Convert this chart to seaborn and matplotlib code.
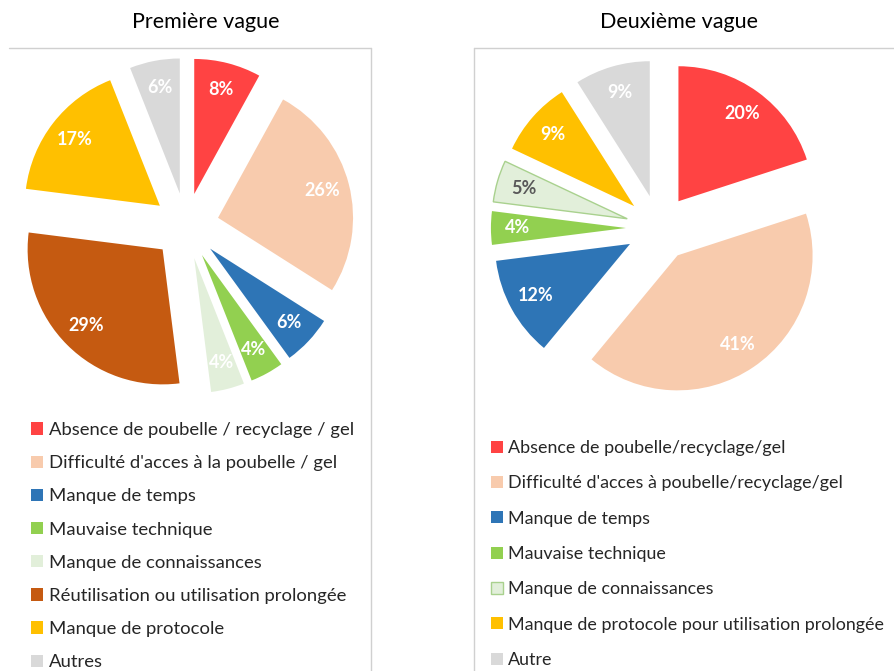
import matplotlib
matplotlib.use("Agg")
import matplotlib.pyplot as plt
import seaborn as sns
from matplotlib.lines import Line2D

# data
labels1 = ["Absence de poubelle / recyclage / gel",
           "Difficulté d'acces à la poubelle / gel",
           "Manque de temps",
           "Mauvaise technique",
           "Manque de connaissances",
           "Réutilisation ou utilisation prolongée",
           "Manque de protocole",
           "Autres"]
values1 = [8, 26, 6, 4, 4, 29, 17, 6]

labels2 = ["Absence de poubelle/recyclage/gel",
           "Difficulté d'acces à poubelle/recyclage/gel",
           "Manque de temps",
           "Mauvaise technique",
           "Manque de connaissances",
           "Manque de protocole pour utilisation prolongée",
           "Autre"]
values2 = [20, 41, 12, 4, 5, 9, 9]

titles = ["Première vague", "Deuxième vague"]

sns.set_theme(style="white")
plt.rcParams['font.family'] = ['Lato', 'DejaVu Sans']

colors1 = sns.color_palette(["#FF4343", "#F8CBAD", "#2E75B6", "#92D050",
                             "#E2EFDA", "#C55A11", "#FFC000", "#D9D9D9"])
colors2 = sns.color_palette(["#FF4343", "#F8CBAD", "#2E75B6", "#92D050",
                             "#E2EFDA", "#FFC000", "#D9D9D9"])

W, H = 895, 671
fig = plt.figure(figsize=(W / 100, H / 100), dpi=100)
fig.patch.set_facecolor("white")

LIM = 1.35
HALF = 135 * LIM  # pie radius is about 135 px


def pie_axes(cx, cy):
    return fig.add_axes([(cx - HALF) / W, (H - cy - HALF) / H, 2 * HALF / W, 2 * HALF / H])


def draw_pie(ax, values, colors, dark_idx=None, edge_idx=None):
    wedges, texts, autotexts = ax.pie(
        values, colors=colors, startangle=90, counterclock=False,
        explode=[0.245] * len(values), autopct="%.0f%%", pctdistance=0.8,
        wedgeprops=dict(linewidth=0),
        textprops=dict(color="white", fontsize=13, fontweight="bold"))
    if dark_idx is not None:
        autotexts[dark_idx].set_color("#595959")
    if edge_idx is not None:
        wedges[edge_idx].set_edgecolor("#A9D18E")
        wedges[edge_idx].set_linewidth(1)
    ax.set_xlim(-LIM, LIM)
    ax.set_ylim(-LIM, LIM)
    ax.axis("off")
    return wedges


ax1 = pie_axes(186, 226)
w1 = draw_pie(ax1, values1, colors1)
ax2 = pie_axes(659, 228)
w2 = draw_pie(ax2, values2, colors2, dark_idx=4, edge_idx=4)

# panel borders
line_kw = dict(color="#D0D0D0", lw=1)
fig.add_artist(Line2D([9 / W, 371 / W], [1 - 48 / H, 1 - 48 / H], **line_kw))
fig.add_artist(Line2D([371 / W, 371 / W], [1 - 48 / H, 0], **line_kw))
fig.add_artist(Line2D([474 / W, 1], [1 - 48 / H, 1 - 48 / H], **line_kw))
fig.add_artist(Line2D([474 / W, 474 / W], [1 - 48 / H, 0], **line_kw))

# titles
fig.text(206 / W, 1 - 22 / H, titles[0], ha="center", va="center", fontsize=15.5, color="black")
fig.text(679 / W, 1 - 22 / H, titles[1], ha="center", va="center", fontsize=15.5, color="black")

# legends
leg_kw = dict(loc="upper left", frameon=False, handlelength=0.65,
              handleheight=0.65, handletextpad=0.3, borderpad=0, borderaxespad=0,
              labelcolor="#262626")
fig.legend(w1, labels1, bbox_to_anchor=(31 / W, 1 - 422 / H), fontsize=13.3,
           labelspacing=0.93, **leg_kw)
fig.legend(w2, labels2, bbox_to_anchor=(491 / W, 1 - 440 / H), fontsize=12.9,
           labelspacing=1.08, **leg_kw)

fig.savefig("out.png", dpi=100, facecolor="white")
